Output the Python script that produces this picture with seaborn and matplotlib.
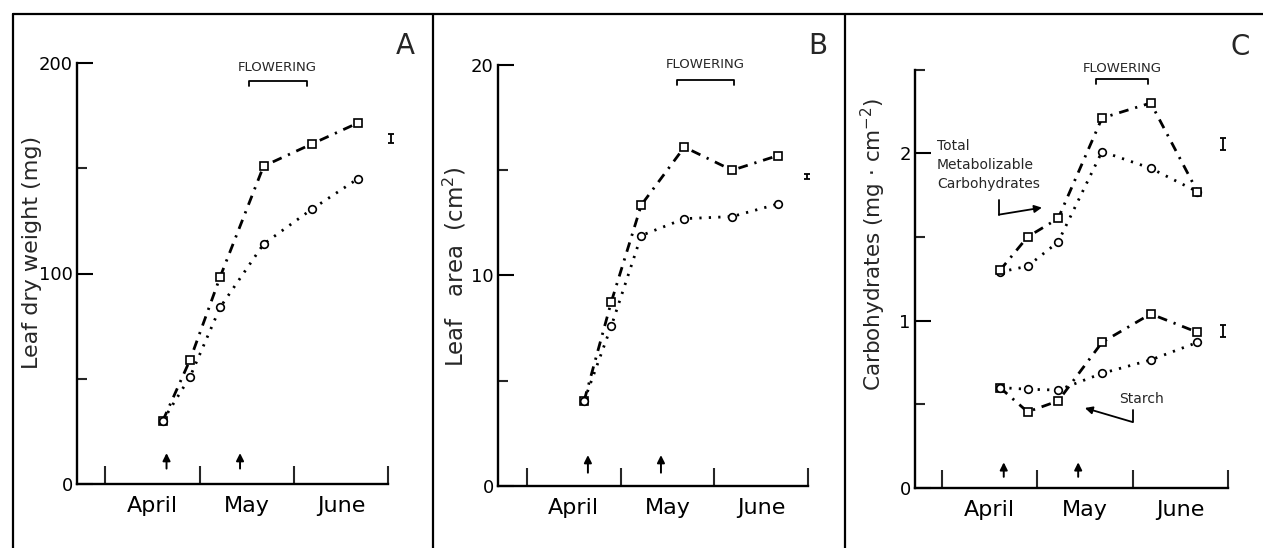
import matplotlib
matplotlib.use('Agg')
import matplotlib.pyplot as plt
from matplotlib.lines import Line2D
import seaborn as sns

sns.set_style('white')
plt.rcParams['font.family'] = ['DejaVu Sans']
plt.rcParams['mathtext.fontset'] = 'dejavusans'

W, H = 1263, 548

# sampling dates in months from 1 April
months = ['April', 'May', 'June']
month_mid = [0.5, 1.5, 2.5]
month_edges = [0, 1, 2, 3]
harvest = [0.61, 0.90, 1.22, 1.68, 2.19, 2.68]
treatments = [0.65, 1.43]

# A - leaf dry weight (mg)
dry_sq = [30, 59, 98.5, 151, 161.5, 171.5]
dry_ci = [30, 51, 84, 114, 130.5, 145]
# B - leaf area (cm2)
area_sq = [4.05, 8.75, 13.35, 16.1, 15.0, 15.7]
area_ci = [4.05, 7.6, 11.9, 12.7, 12.8, 13.4]
# C - carbohydrates (mg cm-2)
tmc_sq = [1.30, 1.50, 1.61, 2.21, 2.30, 1.77]
tmc_ci = [1.29, 1.325, 1.47, 2.01, 1.91, 1.77]
starch_sq = [0.60, 0.455, 0.52, 0.87, 1.04, 0.93]
starch_ci = [0.60, 0.59, 0.585, 0.685, 0.765, 0.87]

DASHDOT = (0, (3.5, 2.5, 0.8, 2.5))
DOTTED = (0, (0.8, 2.6))


def px_rect(x0, x1, ytop, ybot):
    return [x0 / W, 1 - ybot / H, (x1 - x0) / W, (ybot - ytop) / H]


def draw_series(ax, y, marker, style, ms):
    sns.lineplot(x=harvest, y=y, ax=ax, color='black', lw=2.0, linestyle=style,
                 marker=marker, markersize=ms, markerfacecolor='white',
                 markeredgecolor='black', markeredgewidth=1.2, clip_on=False)


def style_axes(ax, xlim, ylim, major, minor):
    ax.set_xlim(*xlim)
    ax.set_ylim(*ylim)
    for s in ['top', 'right']:
        ax.spines[s].set_visible(False)
    for s in ['left', 'bottom']:
        ax.spines[s].set_linewidth(1.7)
        ax.spines[s].set_color('black')
    ax.set_yticks(major)
    ax.set_yticklabels([f'{v:g}' for v in major])
    ax.set_yticks(minor, minor=True)
    ax.set_xticks(month_edges)
    ax.set_xticklabels([''] * len(month_edges))
    ax.set_xticks(month_mid, minor=True)
    ax.set_xticklabels(months, minor=True)
    ax.tick_params(axis='y', which='major', direction='in', length=11.5, width=1.5,
                   pad=3, labelsize=13, colors='black', left=True)
    ax.tick_params(axis='y', which='minor', direction='in', length=7, width=1.5, left=True)
    ax.tick_params(axis='x', which='major', direction='in', length=13, width=1.5, bottom=True)
    ax.tick_params(axis='x', which='minor', length=0, pad=9, labelsize=16, colors='black')
    ax.patch.set_alpha(0)


def flowering(ax, x0, x1, y, ytext, drop):
    ax.text((x0 + x1) / 2, ytext, 'FLOWERING', ha='center', va='center',
            fontsize=9.5, clip_on=False)
    ax.plot([x0, x0, x1, x1], [y - drop, y, y, y - drop], color='black', lw=1.3,
            clip_on=False)


def arrows(ax, base, tip):
    for t in treatments:
        ax.annotate('', xy=(t, tip), xytext=(t, base),
                    arrowprops=dict(arrowstyle='-|>', color='black', lw=1.4,
                                    mutation_scale=11))


def error_bar(ax, x, y, e):
    ax.errorbar([x], [y], yerr=[e], fmt='none', ecolor='black', capsize=2.5,
                elinewidth=1.3, capthick=1.3, clip_on=False)


fig = plt.figure(figsize=(W / 100, H / 100), dpi=100)

# frame around the panels
for x in [13, 433, 845]:
    fig.add_artist(Line2D([x / W, x / W], [0, 1 - 14 / H], color='black', lw=1.6))
fig.add_artist(Line2D([13 / W, 1], [1 - 14 / H, 1 - 14 / H], color='black', lw=1.6))

# ---- A
axA = fig.add_axes(px_rect(77, 388, 63, 484))
draw_series(axA, dry_sq, 's', DASHDOT, 6)
draw_series(axA, dry_ci, 'o', DOTTED, 5.5)
style_axes(axA, (-0.30, 3.0), (0, 200), [0, 100, 200], [50, 150])
axA.set_ylabel('Leaf dry weight (mg)', fontsize=16)
axA.yaxis.label.set_va('center')
axA.yaxis.set_label_coords(-0.145, 0.551)
flowering(axA, 1.52, 2.14, 191.5, 198, 2.4)
arrows(axA, 6, 16)
error_bar(axA, 3.03, 164, 2.2)
fig.text(405 / W, 1 - 46 / H, 'A', fontsize=20, ha='center', va='center')

# ---- B
axB = fig.add_axes(px_rect(498, 808, 65, 486))
draw_series(axB, area_sq, 's', DASHDOT, 6)
draw_series(axB, area_ci, 'o', DOTTED, 5.5)
style_axes(axB, (-0.31, 2.99), (0, 20), [0, 10, 20], [5, 15])
axB.set_ylabel('Leaf   area  (cm$^{2}$)', fontsize=16.5)
axB.yaxis.label.set_va('center')
axB.yaxis.set_label_coords(-0.139, 0.52)
flowering(axB, 1.60, 2.21, 19.3, 20.0, 0.24)
arrows(axB, 0.5, 1.6)
error_bar(axB, 2.99, 14.7, 0.12)
fig.text(818 / W, 1 - 46 / H, 'B', fontsize=20, ha='center', va='center')

# ---- C
axC = fig.add_axes(px_rect(915, 1228, 69.5, 488))
draw_series(axC, tmc_ci, 'o', DOTTED, 5.5)
draw_series(axC, tmc_sq, 's', DASHDOT, 6)
draw_series(axC, starch_sq, 's', DASHDOT, 6)
draw_series(axC, starch_ci, 'o', DOTTED, 5.5)
style_axes(axC, (-0.28, 3.0), (0, 2.5), [0, 1, 2], [0.5, 1.5, 2.5])
axC.set_ylabel('Carbohydrates (mg · cm$^{-2}$)', fontsize=15.5)
axC.yaxis.label.set_va('center')
axC.yaxis.set_label_coords(-0.134, 0.583)
flowering(axC, 1.62, 2.16, 2.444, 2.507, 0.03)
arrows(axC, 0.05, 0.17)
error_bar(axC, 2.95, 2.056, 0.035)
error_bar(axC, 2.95, 0.94, 0.035)
fig.text(1240 / W, 1 - 47 / H, 'C', fontsize=20, ha='center', va='center')

axC.text(-0.05, 1.93, 'Total\nMetabolizable\nCarbohydrates', fontsize=10,
         ha='left', va='center', linespacing=1.45)
axC.plot([0.60, 0.60], [1.72, 1.633], color='black', lw=1.3)
axC.annotate('', xy=(1.05, 1.675), xytext=(0.60, 1.633),
             arrowprops=dict(arrowstyle='-|>', color='black', lw=1.3, mutation_scale=11,
                             shrinkA=0, shrinkB=0))
axC.text(1.86, 0.53, 'Starch', fontsize=10, ha='left', va='center')
axC.plot([2.00, 2.00], [0.466, 0.394], color='black', lw=1.3)
axC.annotate('', xy=(1.50, 0.478), xytext=(2.00, 0.394),
             arrowprops=dict(arrowstyle='-|>', color='black', lw=1.3, mutation_scale=11,
                             shrinkA=0, shrinkB=0))

fig.savefig('out.png', dpi=100)
